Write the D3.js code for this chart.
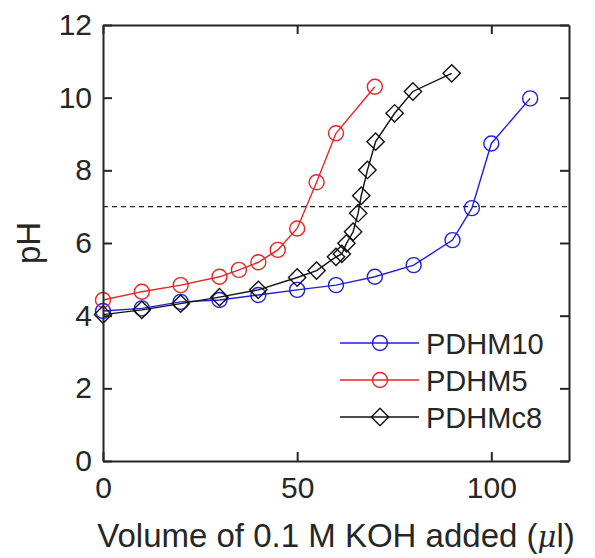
<!DOCTYPE html>
<html>
<head>
<meta charset="utf-8">
<script src="https://cdn.jsdelivr.net/npm/d3@7"></script>
<style>
  body { margin: 0; background: #fff; }
  svg text { font-family: "Liberation Sans", Arial, Helvetica, sans-serif; fill: #262626; }
</style>
</head>
<body>
<div id="chart"></div>
<script>
// data
const volPDHM10 = [0, 10, 20, 30, 40, 50, 60, 70, 80, 90, 95, 100, 110];
const phPDHM10 = [4.13, 4.2, 4.38, 4.43, 4.57, 4.71, 4.84, 5.07, 5.39, 6.08, 6.96, 8.74, 9.98];

const volPDHM5 = [0, 10, 20, 30, 35, 40, 45, 50, 55, 60, 70];
const phPDHM5 = [4.43, 4.66, 4.84, 5.07, 5.26, 5.47, 5.81, 6.4, 7.67, 9.02, 10.3];

const volPDHMc8 = [0, 10, 20, 30, 40, 50, 55, 60, 61.5, 62.7, 64.4, 65.7, 66.5, 68.1, 70.2, 75.1, 79.8, 89.8];
const phPDHMc8 = [4.03, 4.16, 4.33, 4.51, 4.71, 5.05, 5.24, 5.62, 5.7, 5.99, 6.31, 6.82, 7.3, 8.01, 8.79, 9.57, 10.17, 10.67];

const xTicks = [0, 50, 100];
const yTicks = [0, 2, 4, 6, 8, 10, 12];
const refPH = 7;

const series = [
  { name: "PDHM10", x: volPDHM10, y: phPDHM10, color: "#1f1fe0", marker: "circle" },
  { name: "PDHM5", x: volPDHM5, y: phPDHM5, color: "#e82424", marker: "circle" },
  { name: "PDHMc8", x: volPDHMc8, y: phPDHMc8, color: "#111111", marker: "diamond" }
];

const width = 595, height = 558;
const margin = { left: 103, right: 26, top: 25, bottom: 97 };

const svg = d3.select("#chart")
  .append("svg")
  .attr("width", width)
  .attr("height", height);

const xScale = d3.scaleLinear()
  .domain([0, 120])
  .range([margin.left, width - margin.right]);

const yScale = d3.scaleLinear()
  .domain([0, 12])
  .range([height - margin.bottom, margin.top]);

const frameColor = "#262626";
const tickLen = 9;

// dashed reference line
svg.append("line")
  .attr("x1", xScale(0))
  .attr("x2", xScale(120))
  .attr("y1", yScale(refPH))
  .attr("y2", yScale(refPH))
  .attr("stroke", "#222")
  .attr("stroke-width", 1.3)
  .attr("stroke-dasharray", "5,4");

// series
const line = d3.line()
  .x(d => xScale(d[0]))
  .y(d => yScale(d[1]));

const diamond = d3.symbol().type(d3.symbolSquare).size(150);

function drawMarker(g, type, color, cx, cy) {
  if (type === "circle") {
    g.append("circle")
      .attr("cx", cx)
      .attr("cy", cy)
      .attr("r", 7.5)
      .attr("fill", "none")
      .attr("stroke", color)
      .attr("stroke-width", 1.4);
  } else {
    g.append("path")
      .attr("d", diamond())
      .attr("transform", "translate(" + cx + "," + cy + ") rotate(45)")
      .attr("fill", "none")
      .attr("stroke", color)
      .attr("stroke-width", 1.4);
  }
}

series.forEach(s => {
  const pts = s.x.map((v, i) => [v, s.y[i]]);
  const g = svg.append("g");
  g.append("path")
    .datum(pts)
    .attr("d", line)
    .attr("fill", "none")
    .attr("stroke", s.color)
    .attr("stroke-width", 1.4);
  pts.forEach(p => drawMarker(g, s.marker, s.color, xScale(p[0]), yScale(p[1])));
});

// axes (ticks pointing inward, mirrored on top and right)
const xAxis = d3.axisBottom(xScale).tickValues(xTicks).tickSizeInner(-tickLen).tickSizeOuter(0).tickPadding(16);
const yAxis = d3.axisLeft(yScale).tickValues(yTicks).tickSizeInner(-tickLen).tickSizeOuter(0).tickPadding(11);
const xAxisTop = d3.axisTop(xScale).tickValues(xTicks).tickSizeInner(-tickLen).tickSizeOuter(0).tickFormat("");
const yAxisRight = d3.axisRight(yScale).tickValues(yTicks).tickSizeInner(-tickLen).tickSizeOuter(0).tickFormat("");

function styleAxis(g) {
  g.select(".domain").attr("stroke", frameColor).attr("stroke-width", 2);
  g.selectAll(".tick line").attr("stroke", frameColor).attr("stroke-width", 2);
  g.selectAll(".tick text")
    .attr("font-size", 30)
    .attr("fill", frameColor)
    .style("font-family", "'Liberation Sans', Arial, Helvetica, sans-serif");
}

svg.append("g")
  .attr("transform", "translate(0," + yScale(0) + ")")
  .call(xAxis).call(styleAxis);
svg.append("g")
  .attr("transform", "translate(" + xScale(0) + ",0)")
  .call(yAxis).call(styleAxis);
svg.append("g")
  .attr("transform", "translate(0," + yScale(12) + ")")
  .call(xAxisTop).call(styleAxis);
svg.append("g")
  .attr("transform", "translate(" + xScale(120) + ",0)")
  .call(yAxisRight).call(styleAxis);

// axis labels
const xLabel = svg.append("text")
  .attr("x", 336)
  .attr("y", 547)
  .attr("text-anchor", "middle")
  .attr("font-size", 33);
xLabel.append("tspan").text("Volume of 0.1 M KOH added (");
xLabel.append("tspan")
  .attr("font-style", "italic")
  .attr("font-family", "'DejaVu Serif', serif")
  .attr("font-size", 29)
  .text("\u03bc");
xLabel.append("tspan").text("l)");

svg.append("text")
  .attr("transform", "translate(40," + yScale(6) + ") rotate(-90)")
  .attr("text-anchor", "middle")
  .attr("font-size", 33)
  .text("pH");

// legend
const legend = svg.append("g");
series.forEach((s, i) => {
  const ly = 343 + i * 37;
  legend.append("line")
    .attr("x1", 340).attr("x2", 419)
    .attr("y1", ly).attr("y2", ly)
    .attr("stroke", s.color)
    .attr("stroke-width", 1.4);
  drawMarker(legend, s.marker, s.color, 380, ly);
  legend.append("text")
    .attr("x", 426)
    .attr("y", ly + 11)
    .attr("font-size", 29)
    .text(s.name);
});
</script>
</body>
</html>
